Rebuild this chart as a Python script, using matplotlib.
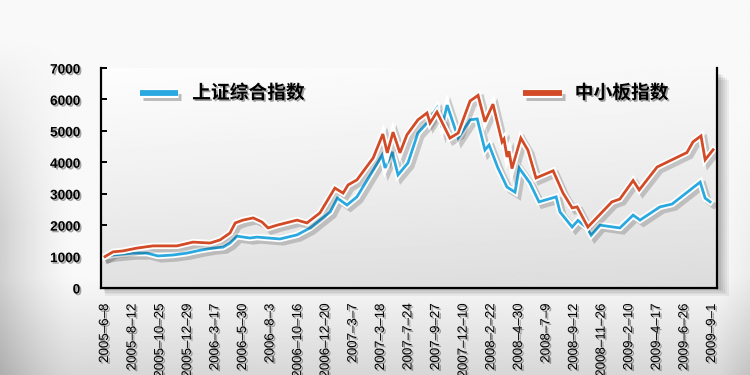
import numpy as np
import matplotlib
matplotlib.use("Agg")
import matplotlib.pyplot as plt
import matplotlib.patheffects as pe
from matplotlib.patches import Rectangle

plt.rcParams['font.family'] = ['Liberation Sans', 'Noto Sans CJK SC', 'DejaVu Sans']

# ---------------- data ----------------
tick_labels = ["2005–6–8", "2005–8–12", "2005–10–25", "2005–12–29", "2006–3–17",
               "2006–5–30", "2006–8–3", "2006–10–16", "2006–12–20", "2007–3–7",
               "2007–3–18", "2007–7–24", "2007–9–27", "2007–12–10", "2008–2–22",
               "2008–4–30", "2008–7–9", "2008–9–12", "2008–11–26", "2009–2–10",
               "2009–4–17", "2009–6–26", "2009–9–1"]

# positions along the category axis (in tick-label units) and index values
sse_pos = [0.0, 0.29, 1.01, 1.52, 1.92, 2.47, 2.97, 3.44, 3.91, 4.28, 4.53, 4.78,
           5.25, 5.51, 6.34, 6.96, 7.43, 8.16, 8.42, 8.77, 9.13, 9.72, 10.04,
           10.15, 10.41, 10.62, 10.98, 11.34, 11.67, 12.03, 12.21, 12.40, 12.80,
           13.23, 13.49, 13.77, 13.92, 14.24, 14.57, 14.86, 15.01, 15.40, 15.73,
           16.35, 16.49, 16.93, 17.14, 17.47, 17.62, 17.94, 18.66, 19.14, 19.39,
           20.11, 20.55, 21.57, 21.75, 21.93]
sse_val = [1000, 1050, 1110, 1110, 1020, 1050, 1110, 1200, 1270, 1300, 1430, 1650,
           1590, 1620, 1560, 1690, 1910, 2420, 2860, 2640, 2900, 3750, 4230,
           3820, 4330, 3600, 3980, 4930, 5250, 5730, 5120, 5820, 4770,
           5350, 5380, 4390, 4550, 3820, 3210, 3050, 3820, 3340, 2740,
           2900, 2420, 1940, 2150, 1910, 1680, 2000, 1910, 2320, 2160,
           2580, 2670, 3370, 2860, 2740]

sme_pos = [0.0, 0.29, 0.65, 1.16, 1.74, 2.61, 3.19, 3.81, 4.17, 4.53, 4.72, 5.00,
           5.37, 5.69, 5.91, 6.24, 6.96, 7.32, 7.79, 8.33, 8.63, 8.81, 9.13,
           9.72, 10.07, 10.23, 10.44, 10.69, 10.94, 11.34, 11.67, 11.78, 12.03,
           12.50, 12.80, 13.23, 13.52, 13.77, 14.06, 14.39, 14.46, 14.57, 14.64,
           14.75, 15.07, 15.33, 15.62, 16.24, 16.60, 16.93, 17.11, 17.50, 18.37,
           18.66, 19.14, 19.36, 20.01, 21.09, 21.31, 21.60, 21.75, 22.04]
sme_val = [1000, 1150, 1180, 1270, 1340, 1340, 1460, 1430, 1530, 1750, 2070, 2160,
           2230, 2100, 1910, 2000, 2160, 2070, 2390, 3180, 3020, 3280, 3440,
           4140, 4900, 4300, 4960, 4300, 4870, 5350, 5570, 5250, 5600,
           4770, 4930, 5950, 6130, 5290, 5850, 4650, 4740, 4170, 4350,
           3800, 4770, 4380, 3500, 3730, 3020, 2550, 2580, 1940, 2740,
           2830, 3420, 3120, 3850, 4310, 4650, 4840, 4080, 4400]

series_names = ["上证综合指数", "中小板指数"]
y_ticks = [0, 1000, 2000, 3000, 4000, 5000, 6000, 7000]

BLUE = "#2aa9e0"
RED = "#d24a26"

# ---------------- figure ----------------
W, H = 7.5, 3.75
fig = plt.figure(figsize=(W, H), dpi=100)

# page background gradient
bg = fig.add_axes([0, 0, 1, 1])
bg.set_axis_off()
ny, nx = 200, 400
yy, xx = np.mgrid[0:1:ny * 1j, 0:1:nx * 1j]   # yy: 0 top -> 1 bottom
base = 0.975 - 0.13 * np.clip((yy - 0.74) / 0.26, 0, 1)
left_dark = 0.16 * np.clip(1 - xx / 0.10, 0, 1) ** 1.5 * np.clip((yy - 0.1) / 0.5, 0, 1)
right_dark = 0.08 * np.clip((xx - 0.96) / 0.04, 0, 1) * np.clip((yy - 0.3) / 0.7, 0, 1)
img = np.clip(base - left_dark - right_dark, 0, 1)
bg.imshow(img, cmap="gray", vmin=0, vmax=1, extent=[0, 1, 0, 1], aspect="auto",
          interpolation="bilinear")
bg.set_xlim(0, 1)
bg.set_ylim(0, 1)

ax_rect = [101 / 750, 1 - 288 / 375, 616 / 750, 220 / 375]

# drop shadow of the panel
for i, a in enumerate([0.05, 0.05, 0.05, 0.06, 0.07]):
    off = (5 - i) * 1.6
    bg.add_patch(Rectangle((ax_rect[0] + 2 / 750 + off / 750 * 0.3, ax_rect[1] - off / 375),
                           ax_rect[2] + off / 750, ax_rect[3] - 4 / 375,
                           facecolor="black", alpha=a, edgecolor="none",
                           transform=bg.transAxes))

ax = fig.add_axes(ax_rect)
ax.patch.set_visible(False)
g = np.linspace(0, 1, 200)[:, None] * np.ones((1, 200))
gx = np.linspace(0, 1, 200)[None, :] * np.ones((200, 1))
panel = 0.99 - 0.11 * g ** 1.2 - 0.02 * gx
ax.imshow(panel, cmap="gray", vmin=0, vmax=1, extent=[0, 1, 0, 1],
          transform=ax.transAxes, aspect="auto", zorder=0, interpolation="bilinear")

line_fx = [pe.SimpleLineShadow(offset=(2.5, -2.5), shadow_color="black", alpha=0.18, linewidth=4.5),
           pe.Stroke(linewidth=4.6, foreground="white"),
           pe.Normal()]

ax.plot(sse_pos, sse_val, color=BLUE, lw=2.0, zorder=3, solid_joinstyle="miter",
        path_effects=line_fx)
ax.plot(sme_pos, sme_val, color=RED, lw=2.0, zorder=3, solid_joinstyle="miter",
        path_effects=line_fx)

ax.set_xlim(-0.145, 22.18)
ax.set_ylim(0, 7000)

for s in ["left", "bottom", "right"]:
    ax.spines[s].set_linewidth(1.6)
    ax.spines[s].set_color("black")
    ax.spines[s].set_zorder(5)
ax.spines["top"].set_visible(False)

txt_fx = [pe.withSimplePatchShadow(offset=(1.2, -1.2), shadow_rgbFace="black", alpha=0.35)]

ax.set_yticks(y_ticks)
ax.set_yticklabels([str(v) for v in y_ticks], fontsize=9.8, fontweight="bold")
ax.tick_params(axis="y", direction="in", length=4, width=1.4, pad=15, left=True, right=False)
for t in ax.get_yticklabels():
    t.set_path_effects(txt_fx)

ax.set_xticks(range(len(tick_labels)))
ax.set_xticklabels(tick_labels, rotation=90, fontsize=9.6, va="top", ha="center")
ax.tick_params(axis="x", length=0, pad=11)
for t in ax.get_xticklabels():
    t.set_path_effects(txt_fx)

# legend (manual, two separate entries)
leg_fx = [pe.SimpleLineShadow(offset=(2, -2.5), shadow_color="black", alpha=0.25, linewidth=5),
          pe.Stroke(linewidth=6.5, foreground="white"), pe.Normal()]
ax.plot([0.063, 0.125], [0.886, 0.886], transform=ax.transAxes, color=BLUE, lw=4.2,
        solid_capstyle="butt", path_effects=leg_fx, zorder=4)
ax.text(0.148, 0.886, series_names[0], transform=ax.transAxes, fontsize=13.5,
        fontweight="bold", family=["Noto Sans CJK SC"], va="center", ha="left",
        path_effects=txt_fx, zorder=4)
ax.plot([0.685, 0.748], [0.886, 0.886], transform=ax.transAxes, color=RED, lw=4.2,
        solid_capstyle="butt", path_effects=leg_fx, zorder=4)
ax.text(0.769, 0.886, series_names[1], transform=ax.transAxes, fontsize=13.5,
        fontweight="bold", family=["Noto Sans CJK SC"], va="center", ha="left",
        path_effects=txt_fx, zorder=4)

fig.savefig("out.png", dpi=100)
